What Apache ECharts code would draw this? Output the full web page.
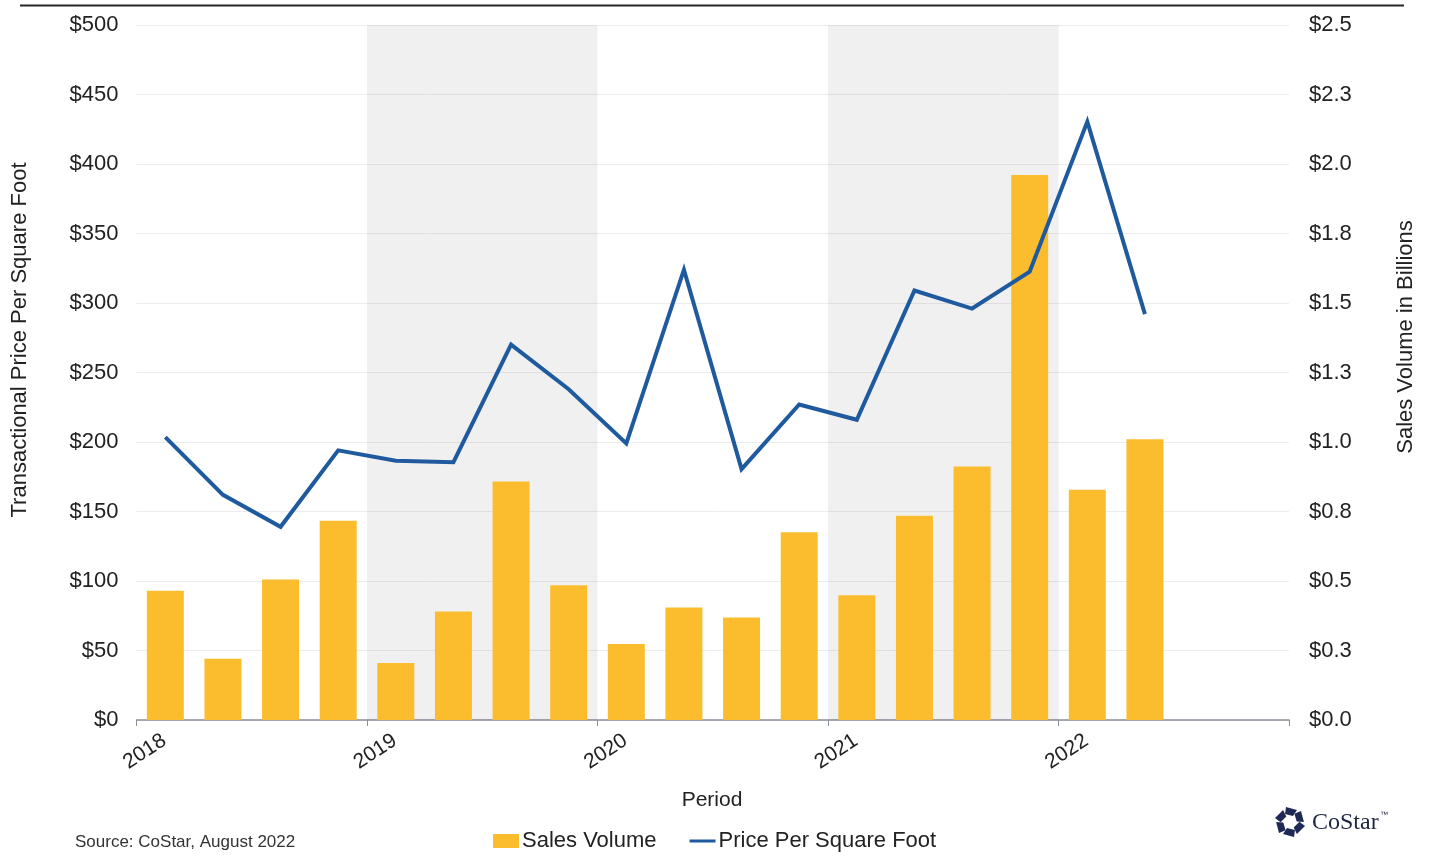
<!DOCTYPE html>
<html><head><meta charset="utf-8">
<script src="https://cdn.jsdelivr.net/npm/echarts@6/dist/echarts.min.js"></script>
<style>html,body{margin:0;padding:0;background:#fff}#c{width:1431px;height:861px}</style>
</head><body><div id="c"></div>
<script>
// ---- data ----
const quarters = ['2018 Q1','2018 Q2','2018 Q3','2018 Q4','2019 Q1','2019 Q2','2019 Q3','2019 Q4',
                  '2020 Q1','2020 Q2','2020 Q3','2020 Q4','2021 Q1','2021 Q2','2021 Q3','2021 Q4',
                  '2022 Q1','2022 Q2'];
const salesVolume = [0.465, 0.22, 0.505, 0.717, 0.205, 0.39, 0.858, 0.485,
                     0.273, 0.405, 0.369, 0.675, 0.449, 0.735, 0.912, 1.96,
                     0.828, 1.01];
const pricePerSF = [203.5, 162, 139, 194, 186.5, 185.5, 270, 238,
                    199, 324, 180.5, 227, 216, 309, 296, 322.5,
                    430.5, 292];
const yearLabels = ['2018','2019','2020','2021','2022',''];
const shadedYears = ['2019','2021'];
const leftTicks = { min: 0, max: 500, step: 50 };
const rightTicks = { min: 0, max: 2.5, step: 0.25 };

// ---- helpers ----
const startYear = +yearLabels[0];
function xPos(q) {
  const [y, qq] = q.split(' ');
  return (+y - startYear) * 4 + (+qq.slice(1) - 1) + 0.5;
}
const FONT = 'Liberation Sans, Arial, sans-serif';
const TXT = '#222';

const chart = echarts.init(document.getElementById('c'));

// CoStar logo pieces
const logoPieces = [];
for (let k = 0; k < 6; k++) {
  const a = k * Math.PI / 3;
  const pts = [[-4, -15], [7, -12], [3, -6], [-5, -8]].map(([x, y]) => [
    x * Math.cos(a) - y * Math.sin(a), x * Math.sin(a) + y * Math.cos(a)
  ]);
  logoPieces.push({ type: 'polygon', shape: { points: pts }, style: { fill: '#1f2b56' } });
}

const lineIcon = 'path://M0,0L0.01,0L0,0.01Z M0,5.5L26,5.5L26,8.5L0,8.5Z M26,14L25.99,14L26,13.99Z';

chart.setOption({
  animation: false,
  textStyle: { fontFamily: FONT },
  grid: { left: 136.5, right: 142, top: 25, bottom: 141, containLabel: false },
  legend: {
    left: 488, top: 825,
    itemWidth: 26, itemHeight: 14, itemGap: 33,
    textStyle: { fontSize: 22, color: TXT, fontFamily: FONT, padding: [0, 0, 0, -2] },
    data: [
      { name: 'Sales Volume', icon: 'rect' },
      { name: 'Price Per Square Foot', icon: lineIcon, itemStyle: { color: '#1f5a9f' } }
    ]
  },
  xAxis: {
    type: 'value',
    min: 0, max: (yearLabels.length - 1) * 4, interval: 4,
    axisLine: { show: true, lineStyle: { color: '#8a8f99', width: 1.5 } },
    axisTick: { show: true, length: 6, lineStyle: { color: '#8a8f99' } },
    splitLine: { show: false },
    axisLabel: {
      formatter: v => yearLabels[v / 4],
      rotate: 33, align: 'center', verticalAlign: 'middle',
      margin: 37, padding: [0, 0, 0, 20],
      fontSize: 21, color: TXT, fontFamily: FONT
    }
  },
  yAxis: [
    {
      type: 'value', position: 'left',
      min: leftTicks.min, max: leftTicks.max, interval: leftTicks.step,
      axisLine: { show: false }, axisTick: { show: false },
      splitLine: { show: true, lineStyle: { color: '#ececec', width: 1 } },
      axisLabel: { formatter: v => '$' + v, fontSize: 22, color: TXT, margin: 18, fontFamily: FONT }
    },
    {
      type: 'value', position: 'right',
      min: rightTicks.min, max: rightTicks.max, interval: rightTicks.step,
      axisLine: { show: false }, axisTick: { show: false },
      splitLine: { show: false },
      axisLabel: { formatter: v => '$' + v.toFixed(1), fontSize: 22, color: TXT, margin: 20, fontFamily: FONT }
    }
  ],
  series: [
    {
      name: 'Sales Volume',
      type: 'bar',
      yAxisIndex: 1,
      barWidth: 37,
      itemStyle: { color: '#FBBD2E' },
      data: quarters.map((q, i) => [xPos(q), salesVolume[i]]),
      markArea: {
        silent: true,
        itemStyle: { color: 'rgba(0,0,0,0.058)' },
        data: shadedYears.map(y => [
          { xAxis: (+y - startYear) * 4 },
          { xAxis: (+y - startYear) * 4 + 4 }
        ])
      }
    },
    {
      name: 'Price Per Square Foot',
      type: 'line',
      yAxisIndex: 0,
      symbol: 'none',
      z: 5,
      lineStyle: { color: '#1f5a9f', width: 4, join: 'miter' },
      itemStyle: { color: '#1f5a9f' },
      data: quarters.map((q, i) => [xPos(q), pricePerSF[i]])
    }
  ],
  graphic: [
    { type: 'line', shape: { x1: 20, y1: 5.5, x2: 1404, y2: 5.5 }, style: { stroke: '#262626', lineWidth: 2 } },
    { type: 'text', x: 20, y: 340, rotation: Math.PI / 2,
      style: { text: 'Transactional Price Per Square Foot', font: '22px ' + FONT, fill: TXT, textAlign: 'center', textVerticalAlign: 'middle' } },
    { type: 'text', x: 1406, y: 337, rotation: Math.PI / 2,
      style: { text: 'Sales Volume in Billions', font: '22px ' + FONT, fill: TXT, textAlign: 'center', textVerticalAlign: 'middle' } },
    { type: 'text', x: 712, y: 800,
      style: { text: 'Period', font: '21px ' + FONT, fill: TXT, textAlign: 'center', textVerticalAlign: 'middle' } },
    { type: 'text', x: 75, y: 842,
      style: { text: 'Source: CoStar, August 2022', font: '17px ' + FONT, fill: '#333', textAlign: 'left', textVerticalAlign: 'middle' } },
    { type: 'group', x: 1290, y: 822, children: logoPieces },
    { type: 'text', x: 1312, y: 823,
      style: { text: 'CoStar', font: '24px Liberation Serif, serif', fill: '#1f2640', textAlign: 'left', textVerticalAlign: 'middle' } },
    { type: 'text', x: 1380, y: 815,
      style: { text: '™', font: '8px ' + FONT, fill: '#1f2640', textAlign: 'left', textVerticalAlign: 'middle' } }
  ]
});
</script>
</body></html>
